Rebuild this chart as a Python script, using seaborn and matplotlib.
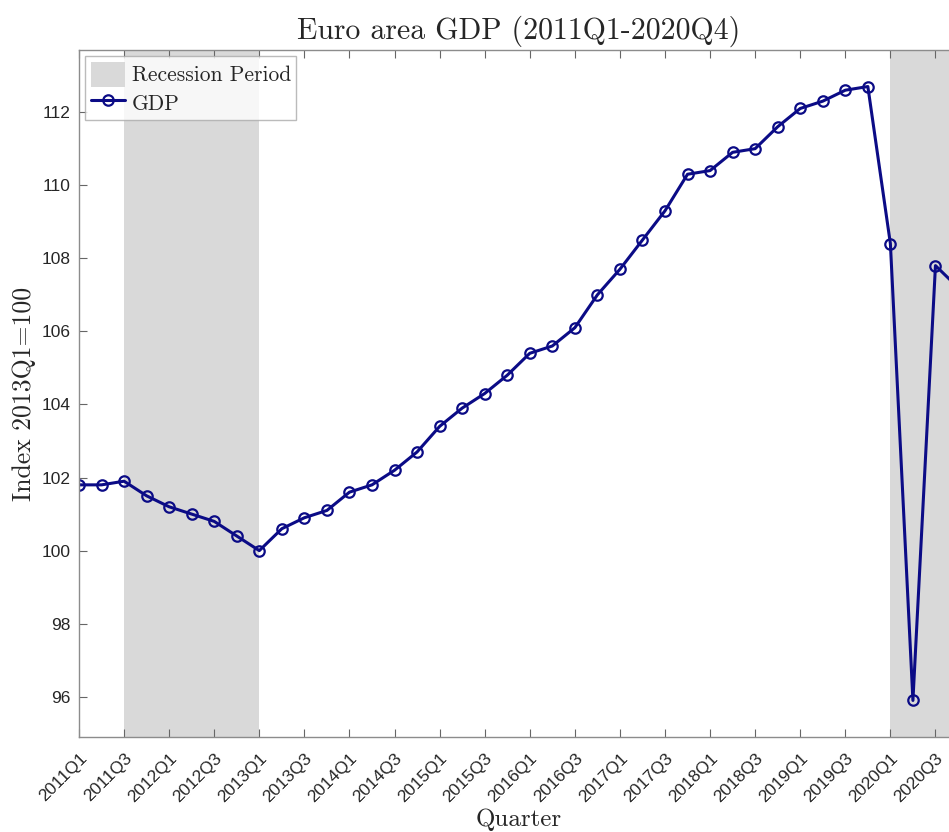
import numpy as np
import pandas as pd
import seaborn as sns
import matplotlib.pyplot as plt

# квартальные значения индекса ВВП еврозоны (2013Q1 = 100)
quarters = [f'{y}Q{q}' for y in range(2011, 2021) for q in range(1, 5)]
gdp = [101.8, 101.8, 101.9, 101.5, 101.2, 101.0, 100.8, 100.4,
       100.0, 100.6, 100.9, 101.1, 101.6, 101.8, 102.2, 102.7,
       103.4, 103.9, 104.3, 104.8, 105.4, 105.6, 106.1, 107.0,
       107.7, 108.5, 109.3, 110.3, 110.4, 110.9, 111.0, 111.6,
       112.1, 112.3, 112.6, 112.7, 108.4, 95.9, 107.8, 107.2]
# периоды рецессии (начало, конец) в кварталах
recessions = [('2011Q3', '2013Q1'), ('2020Q1', '2020Q4')]

df = pd.DataFrame({'Quarter': quarters, 'GDP': gdp})
df['t'] = np.arange(len(df))

sns.set_style('white')
serif = 'cmr10'
sans = 'Liberation Sans'

fig = plt.figure(figsize=(9.49, 8.32), dpi=100)
ax = fig.add_axes([79 / 949, 1 - 737 / 832, (958 - 79) / 949, (737 - 50) / 832])

for i, (start, end) in enumerate(recessions):
    ax.axvspan(quarters.index(start), quarters.index(end) + (1 if end == quarters[-1] else 0),
               color='#d9d9d9', lw=0, zorder=0,
               label='Recession Period' if i == 0 else '_nolegend_')

sns.lineplot(data=df, x='t', y='GDP', ax=ax, color='#0b0b86', lw=2.2,
             marker='o', markersize=7.5, markerfacecolor='none',
             markeredgecolor='#0b0b86', markeredgewidth=1.6, label='GDP')

ax.set_xlim(0, len(quarters) - 1)
ax.set_ylim(94.9, 113.7)
ax.set_xticks(df['t'][::2])
ax.set_xticklabels(df['Quarter'][::2], rotation=45, ha='right', rotation_mode='anchor',
                   fontsize=12.5, family=sans, color='#262626')
ax.set_yticks(np.arange(96, 113, 2))
ax.set_yticklabels([str(v) for v in range(96, 113, 2)], fontsize=12.5, family=sans, color='#262626')
ax.tick_params(axis='both', direction='in', length=6, width=0.8, color='#666666',
               bottom=True, left=True, top=True, right=True)
ax.tick_params(axis='x', pad=10)
ax.tick_params(axis='y', pad=6)
for s in ax.spines.values():
    s.set_color('#8c8c8c')
    s.set_linewidth(1)

ax.set_title('Euro area GDP (2011Q1-2020Q4)', family=serif, fontsize=21.5, pad=8)
ax.set_xlabel('Quarter', family=serif, fontsize=18, labelpad=2)
ax.set_ylabel('Index 2013Q1=100', family=serif, fontsize=18.5, labelpad=4)

leg = ax.legend(loc='upper left', prop={'family': serif, 'size': 15.5}, frameon=True,
                fancybox=False, borderaxespad=0.3, handlelength=1.6, handleheight=1.4,
                handletextpad=0.3, borderpad=0.25, labelspacing=0.15)
leg.get_frame().set_edgecolor('#aaaaaa')
leg.get_frame().set_linewidth(1)

fig.savefig('out.png', dpi=100)
